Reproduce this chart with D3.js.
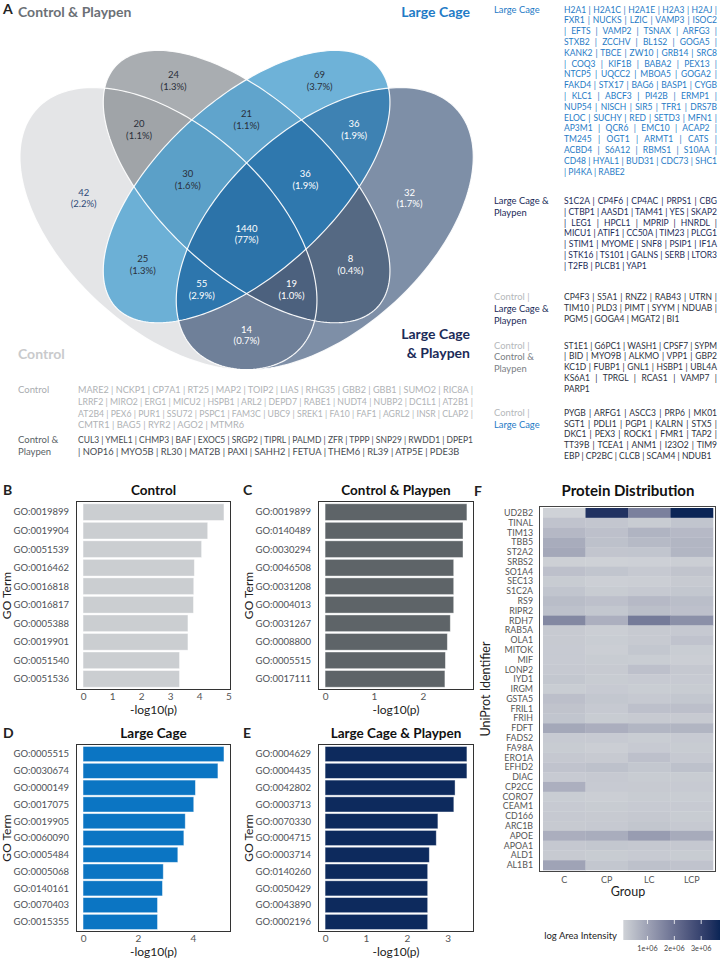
<!DOCTYPE html>
<html>
<head>
<meta charset="utf-8">
<script src="https://cdn.jsdelivr.net/npm/d3@7"></script>
<style>
  body { margin: 0; background: #fff; }
  svg text { font-family: Lato, "Open Sans", "DejaVu Sans", sans-serif; }
</style>
</head>
<body>
<svg id="fig" width="720" height="960"></svg>
<script>
// ---------- data ----------
var vennSets = ["Control", "Control & Playpen", "Large Cage", "Large Cage & Playpen"];
// region key = membership in [Control, Control & Playpen, Large Cage, Large Cage & Playpen]
var vennRegions = ["1000", "0100", "0010", "0001", "1100", "0110", "0011", "1110", "0111", "1111", "1010", "1011", "1101", "0101", "1001"];
var vennCounts = [42, 24, 69, 32, 20, 21, 36, 30, 36, 1440, 25, 55, 19, 8, 14];

var controlGenes = [
  "MARE2 | NCKP1 | CP7A1 | RT25 | MAP2 | TOIP2 | LIAS | RHG35 | GBB2 | GBB1 | SUMO2 | RIC8A |",
  "LRRF2 | MIRO2 | ERG1 | MICU2 | HSPB1 | ARL2 | DEPD7 | RABE1 | NUDT4 | NUBP2 | DC1L1 | AT2B1 |",
  "AT2B4 | PEX6 | PUR1 | SSU72 | PSPC1 | FAM3C | UBC9 | SREK1 | FA10 | FAF1 | AGRL2 | INSR | CLAP2 |",
  "CMTR1 | BAG5 | RYR2 | AGO2 | MTMR6"
];
var playpenGenes = [
  "CUL3 | YMEL1 | CHMP3 | BAF | EXOC5 | SRGP2 | TIPRL | PALMD | ZFR | TPPP | SNP29 | RWDD1 | DPEP1",
  "| NOP16 | MYO5B | RL30 | MAT2B | PAXI | SAHH2 | FETUA | THEM6 | RL39 | ATP5E | PDE3B"
];
var largeCageGenes = [
  "H2A1 | H2A1C | H2A1E | H2A3 | H2AJ |",
  "FXR1 | NUCKS | LZIC | VAMP3 | ISOC2",
  "| EFTS | VAMP2 | TSNAX | ARFG3 |",
  "STXB2 | ZCCHV | BL1S2 | GOGA5 |",
  "KANK2 | TBCE | ZW10 | GRB14 | SRC8",
  "| COQ3 | KIF1B | BABA2 | PEX13 |",
  "NTCP5 | UQCC2 | MBOA5 | GOGA2 |",
  "FAKD4 | STX17 | BAG6 | BASP1 | CYGB",
  "| KLC1 | ABCF3 | PI42B | ERMP1 |",
  "NUP54 | NISCH | SIR5 | TFR1 | DRS7B",
  "ELOC | SUCHY | RED | SETD3 | MFN1 |",
  "AP3M1 | QCR6 | EMC10 | ACAP2 |",
  "TM245 | OGT1 | ARMT1 | CATS |",
  "ACBD4 | S6A12 | RBMS1 | S10AA |",
  "CD48 | HYAL1 | BUD31 | CDC73 | SHC1",
  "| PI4KA | RABE2"
];
var largeCagePlaypenGenes = [
  "S1C2A | CP4F6 | CP4AC | PRPS1 | CBG",
  "| CTBP1 | AASD1 | TAM41 | YES | SKAP2",
  "| LEG1 | HPCL1 | MPRIP | HNRDL |",
  "MICU1 | ATIF1 | CC50A | TIM23 | PLCG1",
  "| STIM1 | MYOME | SNF8 | PSIP1 | IF1A",
  "| STK16 | TS101 | GALNS | SERB | LTOR3",
  "| T2FB | PLCB1 | YAP1"
];
var ctrlLcpGenes = [
  "CP4F3 | S5A1 | RNZ2 | RAB43 | UTRN |",
  "TIM10 | PLD3 | PIMT | SYYM | NDUAB |",
  "PGM5 | GOGA4 | MGAT2 | BI1"
];
var ctrlCpGenes = [
  "ST1E1 | G6PC1 | WASH1 | CPSF7 | SYPM",
  "| BID | MYO9B | ALKMO | VPP1 | GBP2",
  "KC1D | FUBP1 | GNL1 | HSBP1 | UBL4A",
  "KS6A1 | TPRGL | RCAS1 | VAMP7 |",
  "PARP1"
];
var ctrlLcGenes = [
  "PYGB | ARFG1 | ASCC3 | PRP6 | MK01",
  "SGT1 | PDLI1 | PGP1 | KALRN | STX5 |",
  "DKC1 | PEX3 | ROCK1 | FMR1 | TAP2 |",
  "TT39B | TCEA1 | ANM1 | I23O2 | TIM9",
  "EBP | CP2BC | CLCB | SCAM4 | NDUB1"
];

var termsB = ["GO:0019899", "GO:0019904", "GO:0051539", "GO:0016462", "GO:0016818", "GO:0016817", "GO:0005388", "GO:0019901", "GO:0051540", "GO:0051536"];
var valuesB = [4.85, 4.29, 4.08, 3.83, 3.81, 3.80, 3.61, 3.61, 3.32, 3.32];
var ticksB = [0, 1, 2, 3, 4, 5];

var termsC = ["GO:0019899", "GO:0140489", "GO:0030294", "GO:0046508", "GO:0031208", "GO:0004013", "GO:0031267", "GO:0008800", "GO:0005515", "GO:0017111"];
var valuesC = [2.90, 2.82, 2.82, 2.63, 2.63, 2.63, 2.56, 2.50, 2.46, 2.45];
var ticksC = [0, 1, 2];

var termsD = ["GO:0005515", "GO:0030674", "GO:0000149", "GO:0017075", "GO:0019905", "GO:0060090", "GO:0005484", "GO:0005068", "GO:0140161", "GO:0070403", "GO:0015355"];
var valuesD = [5.13, 4.91, 4.09, 4.03, 3.72, 3.67, 3.45, 2.92, 2.89, 2.71, 2.71];
var ticksD = [0, 2, 4];

var termsE = ["GO:0004629", "GO:0004435", "GO:0042802", "GO:0003713", "GO:0070330", "GO:0004715", "GO:0003714", "GO:0140260", "GO:0050429", "GO:0043890", "GO:0002196"];
var valuesE = [3.47, 3.47, 3.18, 3.15, 2.76, 2.72, 2.55, 2.51, 2.51, 2.51, 2.51];
var ticksE = [0, 1, 2, 3];

var proteins = ["UD2B2", "TINAL", "TIM13", "TBB5", "ST2A2", "SRBS2", "SO1A4", "SEC13", "S1C2A", "RS9", "RIPR2", "RDH7", "RAB5A", "OLA1", "MITOK", "MIF", "LONP2", "IYD1", "IRGM", "GSTA5", "FRIL1", "FRIH", "FDFT", "FADS2", "FA98A", "ERO1A", "EFHD2", "DIAC", "CP2CC", "CORO7", "CEAM1", "CD166", "ARC1B", "APOE", "APOA1", "ALD1", "AL1B1"];
var groups = ["C", "CP", "LC", "LCP"];
// log area intensity, in millions, columns C, CP, LC, LCP
var intensity = [
  [0.10, 3.38, 1.68, 3.70], [0.37, 0.32, 0.22, 0.35], [0.58, 0.43, 0.66, 0.56], [0.82, 0.42, 0.55, 0.63],
  [0.90, 0.34, 0.35, 0.63], [0.14, 0.12, 0.13, 0.17], [0.43, 0.35, 0.27, 0.36], [0.22, 0.15, 0.17, 0.25],
  [0.35, 0.22, 0.27, 0.31], [0.50, 0.43, 0.56, 0.48], [0.42, 0.31, 0.46, 0.43], [1.52, 0.75, 1.78, 1.36],
  [0.25, 0.17, 0.25, 0.27], [0.25, 0.20, 0.25, 0.37], [0.24, 0.17, 0.31, 0.20], [0.24, 0.22, 0.20, 0.17],
  [0.27, 0.25, 0.43, 0.29], [0.31, 0.22, 0.24, 0.24], [0.20, 0.24, 0.20, 0.22], [0.45, 0.31, 0.27, 0.31],
  [0.38, 0.27, 0.43, 0.45], [0.35, 0.22, 0.25, 0.25], [0.90, 0.77, 0.63, 0.65], [0.24, 0.24, 0.20, 0.24],
  [0.22, 0.17, 0.24, 0.22], [0.29, 0.25, 0.43, 0.27], [0.37, 0.42, 0.31, 0.42], [0.24, 0.27, 0.22, 0.22],
  [0.75, 0.24, 0.25, 0.24], [0.20, 0.17, 0.22, 0.20], [0.24, 0.22, 0.24, 0.24], [0.27, 0.25, 0.29, 0.22],
  [0.25, 0.27, 0.33, 0.27], [0.77, 0.79, 1.12, 0.84], [0.29, 0.31, 0.29, 0.29], [0.25, 0.22, 0.24, 0.22],
  [0.99, 0.31, 0.42, 0.37]
];
var legendTicks = [1e6, 2e6, 3e6];
var legendLabels = ["1e+06", "2e+06", "3e+06"];

// ---------- setup ----------
var svg = d3.select("#fig");
var defs = svg.append("defs");
var LETTER = "'Liberation Sans', Arial, sans-serif";

function txt(g, x, y, s, size, color, weight, anchor) {
  return g.append("text").attr("x", x).attr("y", y).text(s)
    .attr("font-size", size).attr("fill", color)
    .attr("font-weight", weight || "normal").attr("text-anchor", anchor || "start");
}

// ---------- A: venn ----------
// ellipses in a unit square: cx, cy, a, b, rotation (deg)
var vennEll = [
  [0.35, 0.470, 0.35, 0.20, 135],
  [0.50, 0.555, 0.35, 0.17, 135],
  [0.50, 0.555, 0.35, 0.17, 45],
  [0.65, 0.470, 0.35, 0.20, 45]
];
var regionFill = {
  "1000": "#e4e5e7", "0100": "#a9adb1", "1100": "#a0a4a8", "0010": "#6eb2d8", "0110": "#60a4cc",
  "1110": "#5ba0c8", "1010": "#6cb0d6", "0001": "#7e8fa7", "1001": "#6f8099", "0011": "#3e82b3",
  "0111": "#2f78ae", "1111": "#2c73a9", "1011": "#2d76ad", "0101": "#556983", "1101": "#4c617e"
};
var darkLabel = ["1000", "0100", "1100", "0010", "0110", "1110", "1010"];

var vx = d3.scaleLinear().domain([0, 1]).range([-13.9, 507.1]);
var vy = d3.scaleLinear().domain([0, 1]).range([461.3, -33.7]);

function ellPt(e, t) {
  var r = e[4] * Math.PI / 180, ux = e[2] * Math.cos(t), uy = e[3] * Math.sin(t);
  return [e[0] + ux * Math.cos(r) - uy * Math.sin(r), e[1] + ux * Math.sin(r) + uy * Math.cos(r)];
}
function inEll(e, x, y) {
  var r = e[4] * Math.PI / 180, dx = x - e[0], dy = y - e[1];
  var u = dx * Math.cos(r) + dy * Math.sin(r), v = -dx * Math.sin(r) + dy * Math.cos(r);
  return (u * u) / (e[2] * e[2]) + (v * v) / (e[3] * e[3]) <= 1;
}
var ellLine = d3.line().x(function (p) { return vx(p[0]); }).y(function (p) { return vy(p[1]); }).curve(d3.curveLinearClosed);
var ellPath = vennEll.map(function (e) {
  return ellLine(d3.range(240).map(function (i) { return ellPt(e, i / 240 * 2 * Math.PI); }));
});

ellPath.forEach(function (d, i) {
  defs.append("clipPath").attr("id", "ce" + i).append("path").attr("d", d);
});

var venn = svg.append("g");
vennRegions.forEach(function (key) {
  var inc = [], exc = [];
  key.split("").forEach(function (c, i) { (c == "1" ? inc : exc).push(i); });
  var g = venn.append("g");
  if (exc.length) {
    var m = defs.append("mask").attr("id", "m" + key).attr("maskUnits", "userSpaceOnUse")
      .attr("x", 0).attr("y", 0).attr("width", 720).attr("height", 960);
    m.append("rect").attr("width", 720).attr("height", 960).attr("fill", "#fff");
    exc.forEach(function (i) { m.append("path").attr("d", ellPath[i]).attr("fill", "#000"); });
    g.attr("mask", "url(#m" + key + ")");
  }
  inc.slice(1).forEach(function (i) { g = g.append("g").attr("clip-path", "url(#ce" + i + ")"); });
  g.append("path").attr("d", ellPath[inc[0]]).attr("fill", regionFill[key]);
});
venn.selectAll("path.outline").data(ellPath).join("path").attr("class", "outline")
  .attr("d", function (d) { return d; }).attr("fill", "none")
  .attr("stroke", "#fff").attr("stroke-width", 1.2).attr("stroke-opacity", 0.9);

// region label positions = area centroids of each region
var acc = {};
for (var ix = 0; ix <= 500; ix++) {
  for (var iy = 0; iy <= 500; iy++) {
    var gx = ix / 500, gy = iy / 500;
    var k = vennEll.map(function (e) { return inEll(e, gx, gy) ? "1" : "0"; }).join("");
    if (k == "0000") continue;
    if (!acc[k]) acc[k] = [0, 0, 0];
    acc[k][0] += gx; acc[k][1] += gy; acc[k][2]++;
  }
}
var total = d3.sum(vennCounts);
vennRegions.forEach(function (key, i) {
  var a = acc[key];
  var cx = vx(a[0] / a[2]), cy = vy(a[1] / a[2]);
  var pct = vennCounts[i] / total * 100;
  var col = darkLabel.indexOf(key) > -1 ? (key == "1000" ? "#2f4a78" : "#2a2f3a") : "#ffffff";
  var t = venn.append("text").attr("text-anchor", "middle").attr("font-size", 9.5).attr("fill", col);
  t.append("tspan").attr("x", cx).attr("y", cy - 2).text(vennCounts[i]);
  t.append("tspan").attr("x", cx).attr("y", cy + 9.5).text("(" + (pct < 10 ? pct.toFixed(1) : pct.toFixed(0)) + "%)");
});

txt(svg, 3, 14, "A", 14, "#222", "bold").attr("font-family", LETTER);
txt(svg, 18, 17, vennSets[1], 14, "#6b7076", "bold");
txt(svg, 470, 17, vennSets[2], 14, "#1f7bc6", "bold", "end");
txt(svg, 18, 359, vennSets[0], 14, "#c9cacc", "bold");
txt(svg, 470, 339, "Large Cage", 14, "#1b2b58", "bold", "end");
txt(svg, 470, 358, "& Playpen", 14, "#1b2b58", "bold", "end");

// ---------- gene lists ----------
function geneBlock(x, y, lines, width, size, lh, color) {
  var g = svg.append("g");
  lines.forEach(function (s, i) {
    var t = txt(g, x, y + i * lh, s, size, color);
    var nat = t.node().getComputedTextLength();
    if (nat > width) {
      t.attr("textLength", width).attr("lengthAdjust", "spacingAndGlyphs");
    } else if (i < lines.length - 1) {
      var sp = (s.match(/ /g) || []).length;
      if (sp) t.style("word-spacing", ((width - nat) / sp) + "px");
    }
  });
}
function labelBlock(x, y, parts, size, lh) {
  parts.forEach(function (p, i) { txt(svg, x, y + i * lh, p[0], size, p[1]); });
}

labelBlock(18, 393, [["Control", "#a9acaf"]], 9.5, 11.8);
geneBlock(78, 393, controlGenes, 395, 9.3, 11.8, "#b0b3b6");
labelBlock(18, 443, [["Control &", "#5a5f65"], ["Playpen", "#5a5f65"]], 9.5, 11.8);
geneBlock(78, 443, playpenGenes, 395, 9.3, 11.8, "#474c52");

var GX = 564, GW = 153, GS = 8.5, GL = 10.8, LS = 9.4, LL = 11.8;
labelBlock(494, 12.5, [["Large Cage", "#1f7bc6"]], LS, LL);
geneBlock(GX, 12.5, largeCageGenes, GW, GS, GL, "#1f7bc6");
labelBlock(494, 204, [["Large Cage &", "#1b2b58"], ["Playpen", "#1b2b58"]], LS, LL);
geneBlock(GX, 204, largeCagePlaypenGenes, GW, GS, GL, "#1b2b58");
labelBlock(494, 300, [["Control |", "#b5b8bb"], ["Large Cage &", "#1b2b58"], ["Playpen", "#1b2b58"]], LS, LL);
geneBlock(GX, 300, ctrlLcpGenes, GW, GS, GL, "#2c3140");
labelBlock(494, 348.5, [["Control |", "#b5b8bb"], ["Control &", "#7b8085"], ["Playpen", "#7b8085"]], LS, LL);
geneBlock(GX, 348.5, ctrlCpGenes, GW, GS, GL, "#2c3140");
labelBlock(494, 415.8, [["Control |", "#b5b8bb"], ["Large Cage", "#1f7bc6"]], LS, LL);
geneBlock(GX, 415.8, ctrlLcGenes, GW, GS, GL, "#2c3140");

// ---------- B-E: GO bar charts ----------
function barPanel(p) {
  var max = d3.max(p.values);
  var x = d3.scaleLinear().domain([-0.05 * max, 1.05 * max]).range([p.left, p.right]);
  var y = d3.scaleBand().domain(p.terms).range([p.top, p.bottom]).paddingInner(0.1).paddingOuter(0.15);
  var g = svg.append("g");
  g.selectAll("rect.bar").data(p.terms).join("rect").attr("class", "bar")
    .attr("x", x(0)).attr("y", function (d) { return y(d); })
    .attr("width", function (d, i) { return x(p.values[i]) - x(0); })
    .attr("height", y.bandwidth())
    .attr("fill", p.color).attr("stroke", "#fff").attr("stroke-opacity", 0.5).attr("stroke-width", 0.8);
  g.append("rect").attr("x", p.left + 0.5).attr("y", p.top + 0.5)
    .attr("width", p.right - p.left - 1).attr("height", p.bottom - p.top - 1)
    .attr("fill", "none").attr("stroke", "#333").attr("stroke-width", 1);
  g.selectAll("text.term").data(p.terms).join("text").attr("class", "term")
    .attr("x", p.left - 7).attr("y", function (d) { return y(d) + y.bandwidth() / 2; })
    .attr("dy", "0.35em").attr("text-anchor", "end").attr("font-size", 9.5).attr("fill", "#4d5156")
    .text(function (d) { return d; });
  var ax = g.append("g").attr("transform", "translate(0," + p.bottom + ")")
    .call(d3.axisBottom(x).tickValues(p.ticks).tickSize(0).tickPadding(3).tickFormat(d3.format("d")));
  ax.select(".domain").remove();
  ax.selectAll("text").attr("font-size", 10).attr("fill", "#555")
    .attr("font-family", "Lato, 'Open Sans', sans-serif");
  var mid = (p.left + p.right) / 2;
  txt(g, mid, p.bottom + 24, "-log10(p)", 12, "#222", "normal", "middle");
  txt(g, mid, p.top - 6, p.title, 13.5, "#111", "bold", "middle");
  txt(g, p.letterX, p.top - 6, p.letter, 14, "#222", "bold").attr("font-family", LETTER);
  g.append("text").attr("transform", "translate(" + p.ylabX + "," + ((p.top + p.bottom) / 2) + ") rotate(-90)")
    .attr("text-anchor", "middle").attr("font-size", 12).attr("fill", "#222").text("GO Term");
}

barPanel({ letter: "B", title: "Control", terms: termsB, values: valuesB, ticks: ticksB, color: "#cbced1",
  left: 76, right: 231, top: 501, bottom: 690, letterX: 3, ylabX: 11 });
barPanel({ letter: "C", title: "Control & Playpen", terms: termsC, values: valuesC, ticks: ticksC, color: "#5e6468",
  left: 318, right: 474, top: 501, bottom: 690, letterX: 243, ylabX: 253 });
barPanel({ letter: "D", title: "Large Cage", terms: termsD, values: valuesD, ticks: ticksD, color: "#0b75c3",
  left: 76, right: 231, top: 744, bottom: 932, letterX: 3, ylabX: 11 });
barPanel({ letter: "E", title: "Large Cage & Playpen", terms: termsE, values: valuesE, ticks: ticksE, color: "#0d2a5d",
  left: 318, right: 474, top: 744, bottom: 932, letterX: 243, ylabX: 253 });

// ---------- F: heatmap ----------
var hm = svg.append("g");
var cells = [];
proteins.forEach(function (p, r) {
  groups.forEach(function (grp, c) { cells.push({ p: p, g: grp, v: intensity[r][c] * 1e6 }); });
});
var vExt = d3.extent(cells, function (d) { return d.v; });
var hx = d3.scaleBand().domain(groups).range([543, 713]);
var hy = d3.scaleBand().domain(proteins).range([508, 870]);
var hc = d3.scaleLinear().domain(vExt).range(["#cfd2d7", "#0b2556"]).interpolate(d3.interpolateLab);

hm.selectAll("rect.cell").data(cells).join("rect").attr("class", "cell")
  .attr("x", function (d) { return hx(d.g); }).attr("y", function (d) { return hy(d.p); })
  .attr("width", hx.bandwidth() + 0.3).attr("height", hy.bandwidth() + 0.3)
  .attr("fill", function (d) { return hc(d.v); });
hm.append("rect").attr("x", 539.5).attr("y", 506.5).attr("width", 176).attr("height", 365)
  .attr("fill", "none").attr("stroke", "#444").attr("stroke-width", 1);
hm.selectAll("text.prot").data(proteins).join("text").attr("class", "prot")
  .attr("x", 533).attr("y", function (d) { return hy(d) + hy.bandwidth() / 2; }).attr("dy", "0.35em")
  .attr("text-anchor", "end").attr("font-size", 8.8).attr("fill", "#555").text(function (d) { return d; });
hm.selectAll("text.grp").data(groups).join("text").attr("class", "grp")
  .attr("x", function (d) { return hx(d) + hx.bandwidth() / 2; }).attr("y", 883)
  .attr("text-anchor", "middle").attr("font-size", 9).attr("fill", "#555").text(function (d) { return d; });
txt(hm, 628, 896, "Group", 12.5, "#222", "normal", "middle");
hm.append("text").attr("transform", "translate(490,689) rotate(-90)").attr("text-anchor", "middle")
  .attr("font-size", 12.5).attr("fill", "#222").text("UniProt Identifier");
txt(hm, 628, 496, "Protein Distribution", 15, "#111", "bold", "middle");
txt(hm, 474, 496, "F", 14, "#222", "bold").attr("font-family", LETTER);

// legend colour bar
var lx = d3.scaleLinear().domain(vExt).range([623.3, 720]);
var grad = defs.append("linearGradient").attr("id", "hmGrad");
d3.range(11).forEach(function (i) {
  grad.append("stop").attr("offset", (i * 10) + "%")
    .attr("stop-color", hc(vExt[0] + (vExt[1] - vExt[0]) * i / 10));
});
hm.append("rect").attr("x", 623.3).attr("y", 920).attr("width", 96.7).attr("height", 20).attr("fill", "url(#hmGrad)");
legendTicks.forEach(function (v, i) {
  var px = lx(v);
  hm.append("line").attr("x1", px).attr("x2", px).attr("y1", 920).attr("y2", 924).attr("stroke", "#fff").attr("stroke-width", 0.8);
  hm.append("line").attr("x1", px).attr("x2", px).attr("y1", 936).attr("y2", 940).attr("stroke", "#fff").attr("stroke-width", 0.8);
  txt(hm, px, 950.5, legendLabels[i], 7.2, "#444", "normal", "middle");
});
txt(hm, 617, 939, "log Area Intensity", 9.5, "#222", "normal", "end");
</script>
</body>
</html>
